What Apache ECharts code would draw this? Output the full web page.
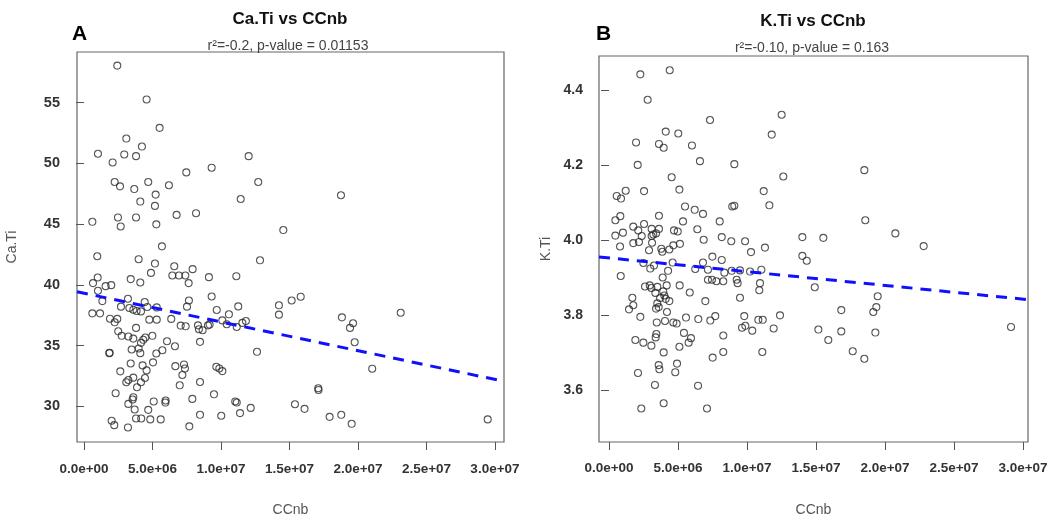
<!DOCTYPE html>
<html>
<head>
<meta charset="utf-8">
<script src="https://cdn.jsdelivr.net/npm/echarts@6/dist/echarts.min.js"></script>
<style>
html,body{margin:0;padding:0;background:#fff;}
#c{width:1054px;height:522px;}
</style>
</head>
<body>
<div id="c"></div>
<script>
// x values in millions (CCnb / 1e6)
const xTicks = [0, 5, 10, 15, 20, 25, 30];
const caTicks = [30, 35, 40, 45, 50, 55];
const kTicks = [3.6, 3.8, 4.0, 4.2, 4.4];

const caTiPoints = [
[2.43,58.06],[4.57,55.27],[5.52,52.93],[3.09,52.05],[4.23,51.39],[1.02,50.80],[2.94,50.74],[3.80,50.60],[2.09,50.08],[12.02,50.60],[9.32,49.65],[7.47,49.26],[2.24,48.47],[2.63,48.11],[4.69,48.47],[3.67,47.89],[6.20,48.20],[12.72,48.47],[5.23,47.43],[11.44,47.07],[4.11,46.86],[5.18,46.50],[6.76,45.76],[8.18,45.90],[0.61,45.19],[2.48,45.55],[3.80,45.55],[2.68,44.81],[5.28,44.98],[14.55,44.51],[5.69,43.17],
[0.97,42.35],[3.99,42.11],[5.18,41.75],[12.85,42.02],[6.59,41.53],[7.93,41.29],[4.89,40.98],[6.45,40.77],[6.93,40.77],[7.40,40.77],[9.12,40.63],[11.12,40.71],[1.00,40.60],[3.41,40.47],[4.11,40.19],[7.64,40.14],[0.66,40.14],[1.58,39.89],[1.99,39.97],[1.02,39.51],[1.34,38.66],[3.21,38.85],[4.43,38.58],[7.66,38.71],[9.32,39.04],[14.23,38.31],[14.23,37.54],[2.70,38.20],[3.31,38.09],[3.60,37.95],[3.84,37.84],[4.16,37.81],[4.62,38.17],[5.31,38.14],[7.52,38.20],[9.69,37.93],[11.26,38.22],[0.61,37.65],[1.17,37.65],[1.90,37.21],[2.43,37.19],[2.24,36.91],[4.77,37.13],[5.31,37.13],[6.37,37.19],[7.06,36.64],[7.42,36.58],[8.32,36.66],[8.39,36.34],[8.66,36.26],[9.05,36.66],[9.17,36.72],[10.10,37.07],[10.58,37.57],[10.42,36.75],[11.15,36.53],[11.56,36.86],[11.82,37.02],[2.50,36.17],[2.75,35.80],[3.24,35.74],[3.60,35.57],[3.80,36.45],[4.16,35.22],[4.48,35.66],[4.33,35.47],[4.99,35.80],[6.06,35.35],[6.64,34.94],[8.47,35.30],[12.63,34.48],[1.85,34.37],[1.87,34.40],[3.48,34.67],[3.99,34.75],[4.11,34.37],[5.28,34.34],[5.72,34.61],[3.41,33.52],[4.28,33.36],[4.57,32.95],[5.04,33.61],[6.67,33.30],[7.30,33.44],[7.37,33.11],[7.18,32.57],[9.66,33.25],[9.88,33.11],[10.10,32.89],[2.65,32.87],[3.09,31.97],[3.24,32.16],[3.60,32.35],[3.87,31.56],[4.16,31.97],[4.45,32.32],[6.99,31.72],[8.47,31.99],[2.31,31.07],[3.60,30.74],[3.55,30.55],[3.24,30.19],[5.09,30.39],[5.96,30.47],[5.94,30.30],[7.91,30.60],[9.49,30.98],[11.04,30.39],[11.15,30.30],[12.17,29.86],[3.70,29.73],[4.69,29.70],[11.39,29.43],[8.47,29.29],[10.02,29.21],[2.02,28.80],[2.21,28.44],[3.21,28.25],[3.80,28.99],[4.18,28.99],[4.84,28.91],[5.60,28.91],[7.69,28.34],
[18.76,47.38],[15.16,38.71],[15.82,39.02],[18.83,37.32],[19.64,36.83],[19.42,36.45],[19.76,35.27],[23.12,37.70],[21.04,33.09],[17.10,31.48],[17.12,31.34],[15.40,30.16],[16.10,29.78],[17.93,29.12],[18.78,29.29],[19.54,28.55],[29.47,28.91]
];

const kTiPoints = [
[2.27,4.443],[4.40,4.454],[2.80,4.375],[7.32,4.321],[12.51,4.335],[4.11,4.290],[5.02,4.285],[1.96,4.261],[3.62,4.257],[3.96,4.247],[6.01,4.253],[11.79,4.282],[6.59,4.211],[2.08,4.201],[9.08,4.203],[4.54,4.168],[12.63,4.170],[0.56,4.118],[0.87,4.111],[1.21,4.132],[2.54,4.131],[5.10,4.135],[11.21,4.131],[11.62,4.093],[8.93,4.090],[9.08,4.092],[5.51,4.090],[6.21,4.081],[6.81,4.070],[0.46,4.053],[0.82,4.064],[3.62,4.065],[5.36,4.050],[8.02,4.050],[1.76,4.036],[2.12,4.026],[2.54,4.043],[3.09,4.030],[3.62,4.030],[3.41,4.018],[3.21,4.015],[4.71,4.026],[4.98,4.023],[6.40,4.029],[1.01,4.020],[0.46,4.012],[2.37,4.011],[3.09,4.011],[6.86,4.001],[8.17,4.008],[14.01,4.008],[1.76,3.992],[2.17,3.995],[3.12,3.993],[5.14,3.990],[8.86,3.997],[9.86,3.997],[0.80,3.983],
[2.90,3.973],[3.79,3.977],[3.86,3.969],[4.37,3.975],[4.66,3.986],[10.29,3.968],[11.30,3.980],[14.01,3.958],[14.33,3.945],[2.49,3.939],[3.26,3.932],[2.99,3.924],[4.61,3.940],[4.28,3.918],[6.25,3.923],[6.81,3.940],[7.49,3.956],[8.17,3.947],[7.17,3.921],[7.17,3.894],[7.46,3.894],[7.78,3.890],[8.28,3.890],[8.36,3.913],[8.89,3.918],[9.25,3.894],[9.32,3.885],[9.49,3.919],[10.22,3.916],[10.94,3.885],[11.04,3.921],[10.89,3.866],[0.85,3.904],[2.61,3.876],[2.95,3.879],[3.07,3.872],[3.50,3.875],[3.89,3.900],[4.18,3.879],[3.36,3.859],[3.93,3.863],[4.01,3.852],[3.70,3.845],[4.11,3.843],[4.37,3.837],[3.50,3.831],[3.60,3.821],[3.41,3.817],[4.20,3.808],[5.12,3.879],[5.85,3.860],[6.98,3.837],[9.49,3.846],[1.69,3.846],[1.76,3.826],[1.45,3.815],[2.27,3.795],[3.46,3.780],[4.06,3.784],[4.66,3.780],[4.90,3.777],[5.58,3.793],[6.47,3.789],[7.34,3.785],[7.70,3.797],[9.80,3.797],[9.64,3.766],[9.88,3.771],[10.38,3.758],[10.82,3.787],[11.14,3.787],[11.93,3.764],[12.39,3.799],[5.43,3.752],[5.77,3.726],[5.94,3.738],[3.43,3.749],[3.38,3.740],[1.91,3.733],[2.49,3.726],[3.07,3.718],[5.10,3.715],[8.28,3.745],[8.28,3.701],[3.96,3.700],[11.11,3.701],[7.51,3.686],[3.60,3.666],[3.65,3.655],[4.93,3.670],[4.80,3.647],[2.10,3.645],[3.33,3.613],[6.45,3.611],[2.34,3.550],[3.96,3.564],[7.10,3.550],
[18.50,4.187],[18.57,4.053],[15.53,4.006],[20.75,4.018],[22.80,3.984],[14.91,3.874],[19.47,3.850],[19.37,3.821],[19.15,3.808],[16.83,3.813],[15.17,3.761],[16.83,3.756],[19.30,3.753],[15.89,3.733],[17.66,3.703],[18.50,3.683],[29.13,3.768]
];

// fitted regression lines (read endpoints at the plot edges)
const caFitLine = [[-0.51, 39.43], [30.66, 32.05]];
const kFitLine = [[-0.725, 3.955], [30.36, 3.841]];

const FONT = '"Liberation Sans", Arial, sans-serif';

function sci(v) {
  const n = v * 1e6;
  if (n === 0) return '0.0e+00';
  const e = Math.floor(Math.log10(Math.abs(n)) + 1e-9);
  const m = n / Math.pow(10, e);
  return m.toFixed(1) + 'e' + (e < 0 ? '-' : '+') + String(Math.abs(e)).padStart(2, '0');
}

function xAxisCfg(gi, min, max, margin) {
  return {
    gridIndex: gi, type: 'value', min: min, max: max,
    axisLine: { show: false },
    splitLine: { show: false },
    axisTick: { show: true, customValues: xTicks, length: 8, inside: false, lineStyle: { color: '#555', width: 1 } },
    axisLabel: { customValues: xTicks, formatter: sci, fontFamily: FONT, fontWeight: 'bold', fontSize: 13.5, color: '#333', margin: margin },
    name: 'CCnb', nameLocation: 'middle', nameGap: 61,
    nameTextStyle: { color: '#555', fontSize: 14, fontFamily: FONT }
  };
}

const option = {
  animation: false,
  backgroundColor: '#fff',
  title: [
    { text: 'Ca.Ti vs CCnb', left: 290, top: 11, padding: 0, textAlign: 'center', textStyle: { fontFamily: FONT, fontWeight: 'bold', fontSize: 17, color: '#111' } },
    { text: 'r²=-0.2, p-value = 0.01153', left: 288, top: 39, padding: 0, textAlign: 'center', textStyle: { fontFamily: FONT, fontWeight: 'normal', fontSize: 14, color: '#444' } },
    { text: 'A', left: 72, top: 24, padding: 0, textStyle: { fontFamily: FONT, fontWeight: 'bold', fontSize: 21, color: '#000' } },
    { text: 'K.Ti vs CCnb', left: 813, top: 13, padding: 0, textAlign: 'center', textStyle: { fontFamily: FONT, fontWeight: 'bold', fontSize: 17, color: '#111' } },
    { text: 'r²=-0.10, p-value = 0.163', left: 812, top: 41, padding: 0, textAlign: 'center', textStyle: { fontFamily: FONT, fontWeight: 'normal', fontSize: 14, color: '#444' } },
    { text: 'B', left: 596, top: 24, padding: 0, textStyle: { fontFamily: FONT, fontWeight: 'bold', fontSize: 21, color: '#000' } }
  ],
  grid: [
    { left: 77, top: 52, width: 427, height: 392, show: true, borderColor: '#666', borderWidth: 1.2, backgroundColor: 'transparent', containLabel: false },
    { left: 599, top: 56, width: 429, height: 392, show: true, borderColor: '#666', borderWidth: 1.2, backgroundColor: 'transparent', containLabel: false }
  ],
  xAxis: [
    xAxisCfg(0, -0.51, 30.66, 20),
    xAxisCfg(1, -0.725, 30.36, 19)
  ],
  yAxis: [
    {
      gridIndex: 0, type: 'value', min: 27.05, max: 59.18,
      axisLine: { show: false }, splitLine: { show: false },
      axisTick: { show: true, customValues: caTicks, length: 8, lineStyle: { color: '#555' } },
      axisLabel: { customValues: caTicks, fontFamily: FONT, fontWeight: 'bold', fontSize: 14.5, color: '#333', margin: 17 },
      name: 'Ca.Ti', nameLocation: 'middle', nameGap: 58,
      nameTextStyle: { color: '#555', fontSize: 14, fontFamily: FONT }
    },
    {
      gridIndex: 1, type: 'value', min: 3.4605, max: 4.492,
      axisLine: { show: false }, splitLine: { show: false },
      axisTick: { show: true, customValues: kTicks, length: 8, lineStyle: { color: '#555' } },
      axisLabel: { customValues: kTicks, formatter: v => v.toFixed(1), fontFamily: FONT, fontWeight: 'bold', fontSize: 14, color: '#333', margin: 16 },
      name: 'K.Ti', nameLocation: 'middle', nameGap: 46,
      nameTextStyle: { color: '#555', fontSize: 14, fontFamily: FONT }
    }
  ],
  series: [
    {
      type: 'scatter', xAxisIndex: 0, yAxisIndex: 0, data: caTiPoints, silent: true,
      symbol: 'circle', symbolSize: 7,
      itemStyle: { color: 'rgba(0,0,0,0)', borderColor: '#2a2a2a', borderWidth: 1.1 }
    },
    {
      type: 'line', xAxisIndex: 0, yAxisIndex: 0, data: caFitLine, silent: true,
      showSymbol: false, symbol: 'none',
      lineStyle: { color: '#1010ff', width: 3, type: [11, 8] }, z: 3
    },
    {
      type: 'scatter', xAxisIndex: 1, yAxisIndex: 1, data: kTiPoints, silent: true,
      symbol: 'circle', symbolSize: 7,
      itemStyle: { color: 'rgba(0,0,0,0)', borderColor: '#2a2a2a', borderWidth: 1.1 }
    },
    {
      type: 'line', xAxisIndex: 1, yAxisIndex: 1, data: kFitLine, silent: true,
      showSymbol: false, symbol: 'none',
      lineStyle: { color: '#1010ff', width: 3, type: [11, 8] }, z: 3
    }
  ]
};

const chart = echarts.init(document.getElementById('c'), null, { renderer: 'canvas' });
chart.setOption(option);
</script>
</body>
</html>
